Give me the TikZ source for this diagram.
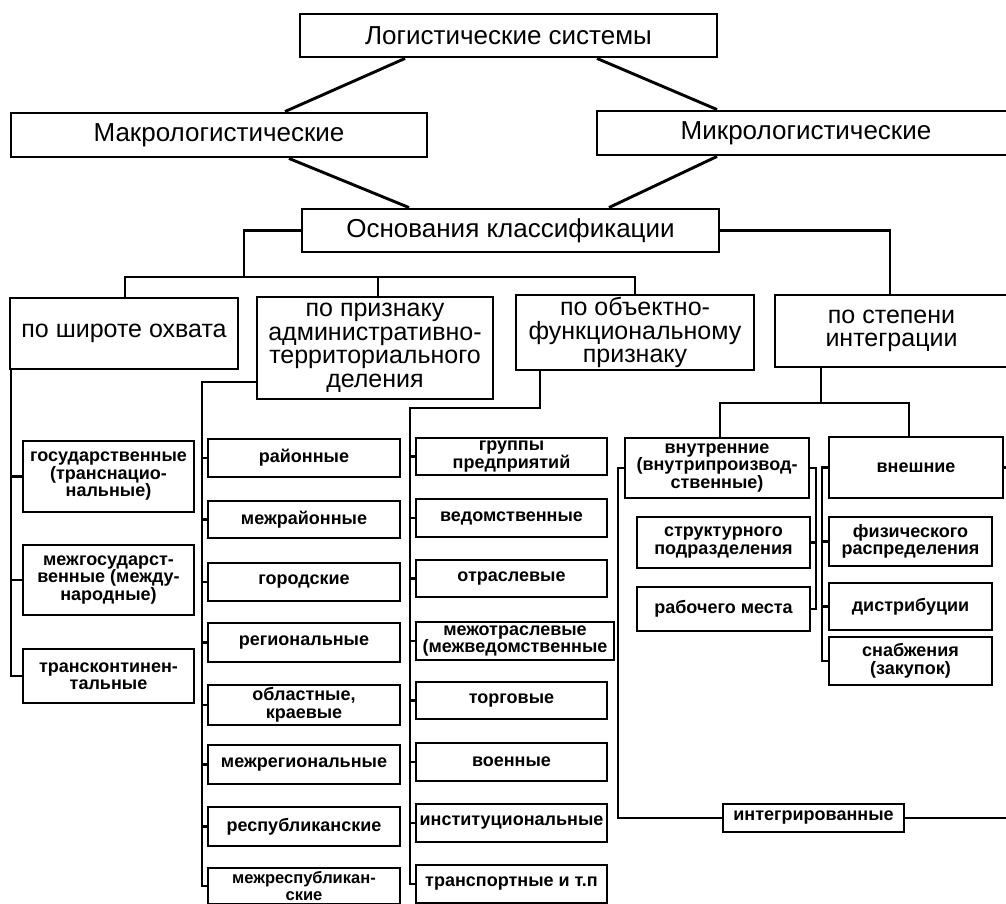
\documentclass[tikz,border=0pt]{standalone}
\usepackage{fontspec}
\setmainfont{Liberation Sans}
\begin{document}
\begin{tikzpicture}[x=1pt,y=-1pt,
  box/.style={draw, line width=2.9pt, rectangle, inner sep=0pt, align=center},
  titlebox/.style={box, font=\fontsize{26}{26}\selectfont},
  catbox/.style={box, font=\fontsize{25}{23.5}\selectfont},
  leafbox/.style={box, font=\bfseries\fontsize{18}{17.5}\selectfont},
  conn/.style={line width=2.9pt, line join=miter},
]
\useasboundingbox (0,0) rectangle (1006,904);
\fill[white] (0,0) rectangle (1006,904);
\clip (0,0) rectangle (1006,904);

% top level
\node[titlebox, minimum width=417pt, minimum height=43pt] (log) at (508.5,35.5) {Логистические системы};
\node[titlebox, minimum width=416pt, minimum height=44pt] (makro) at (219,135) {Макрологистические};
\node[titlebox, minimum width=418pt, minimum height=44pt] (mikro) at (806,133) {Микрологистические};
\node[titlebox, minimum width=417pt, minimum height=43pt] (osn) at (510.5,230.5) {Основания классификации};

% categories
\node[catbox, minimum width=228pt, minimum height=71pt] (shir) at (124,333.5) {по широте охвата};
\node[catbox, minimum width=236pt, minimum height=102pt] (adm) at (375,348) {по признаку\\административно-\\территориального\\деления};
\node[catbox, minimum width=238pt, minimum height=75pt] (obj) at (635,332.5) {по объектно-\\функциональному\\признаку};
\node[catbox, minimum width=233pt, minimum height=72pt] (step) at (891.5,331) {по степени\\интеграции};

% column 1
\node[leafbox, minimum width=171pt, minimum height=71pt] (gos) at (108.5,476.5) {государственные\\(транснацио-\\нальные)};
\node[leafbox, minimum width=171pt, minimum height=70pt] (mgos) at (108.5,580) {межгосударст-\\венные (между-\\народные)};
\node[leafbox, minimum width=171pt, minimum height=54pt] (trans) at (108.5,676) {трансконтинен-\\тальные};

% column 2
\node[leafbox, minimum width=192pt, minimum height=38pt] (ray) at (304,458) {районные};
\node[leafbox, minimum width=192pt, minimum height=37pt] (mray) at (304,519.5) {межрайонные};
\node[leafbox, minimum width=192pt, minimum height=38pt] (gor) at (304,582) {городские};
\node[leafbox, minimum width=192pt, minimum height=39pt] (reg) at (304,642.5) {региональные};
\node[leafbox, minimum width=192pt, minimum height=40pt] (obl) at (304,705) {областные,\\краевые};
\node[leafbox, minimum width=192pt, minimum height=39pt] (mreg) at (304,764.5) {межрегиональные};
\node[leafbox, minimum width=192pt, minimum height=39pt] (resp) at (304,826.5) {республиканские};
\node[leafbox, minimum width=192pt, minimum height=36pt, font=\bfseries\fontsize{16.5}{16.5}\selectfont] (mresp) at (304,886) {межреспубликан-\\ские};

% column 3
\node[leafbox, minimum width=191pt, minimum height=37pt] (grp) at (511.5,456.5) {группы\\предприятий};
\node[leafbox, minimum width=191pt, minimum height=38pt] (ved) at (511.5,518) {ведомственные};
\node[leafbox, minimum width=191pt, minimum height=37pt] (otr) at (511.5,578.5) {отраслевые};
\node[leafbox, minimum width=198pt, minimum height=38pt] (motr) at (515,641) {межотраслевые\\(межведомственные};
\node[leafbox, minimum width=191pt, minimum height=37pt] (torg) at (511.5,700.5) {торговые};
\node[leafbox, minimum width=191pt, minimum height=38pt] (voen) at (511.5,762) {военные};
\node[leafbox, minimum width=191pt, minimum height=38pt] (inst) at (511.5,823) {институциональные};
\node[leafbox, minimum width=191pt, minimum height=38pt] (transp) at (511.5,884) {транспортные и т.п};

% integration subtree
\node[leafbox, minimum width=184pt, minimum height=60pt] (vnutr) at (717,468) {внутренние\\(внутрипроизвод-\\ственные)};
\node[leafbox, minimum width=173pt, minimum height=51pt] (strukt) at (723.5,542.5) {структурного\\подразделения};
\node[leafbox, minimum width=173pt, minimum height=44pt] (rab) at (723.5,609) {рабочего места};
\node[leafbox, minimum width=174pt, minimum height=61pt] (vnesh) at (916,467.5) {внешние};
\node[leafbox, minimum width=163pt, minimum height=49pt] (fiz) at (910.5,541.5) {физического\\распределения};
\node[leafbox, minimum width=163pt, minimum height=47pt] (distr) at (910.5,606.5) {дистрибуции};
\node[leafbox, minimum width=163pt, minimum height=48pt] (snab) at (910.5,661) {снабжения\\(закупок)};
\node[leafbox, minimum width=181pt, minimum height=28pt] (integr) at (813.5,818) {интегрированные};

% top connectors
\draw[conn] (log.south -| 405,0) -- (makro.north -| 285,0);
\draw[conn] (log.south -| 597,0) -- (mikro.north -| 717,0);
\draw[conn] (makro.south -| 289,0) -- (osn.north -| 409,0);
\draw[conn] (mikro.south -| 717,0) -- (osn.north -| 609,0);

% classification bus
\coordinate (b1) at (244,277);
\coordinate (bL) at (125,277);
\coordinate (bR) at (635,277);
\draw[conn] (osn.west) -| (b1);
\draw[conn] (bL |- shir.north) -- (bL) -- (bR) -- (obj.north);
\draw[conn] (378,277) -- (adm.north -| 378,0);
\draw[conn] (osn.east) -| (step.north -| 890,0);

% column 1 connectors
\coordinate (s1) at (11,0);
\draw[conn] (shir.south -| s1) |- (trans.west);
\draw[conn] (gos.west -| s1) -- (gos.west);
\draw[conn] (mgos.west -| s1) -- (mgos.west);

% column 2 connectors
\coordinate (s2) at (202,382);
\draw[conn] (adm.west |- s2) -- (s2) |- (mresp.west);
\foreach \n in {ray,mray,gor,reg,obl,mreg,resp}
  \draw[conn] (\n.west -| s2) -- (\n.west);

% column 3 connectors
\coordinate (s3) at (410,408);
\draw[conn] (obj.south -| 540,0) |- (s3) |- (transp.west);
\foreach \n in {grp,ved,otr,motr,torg,voen,inst}
  \draw[conn] (\n.west -| s3) -- (\n.west);

% integration connectors
\draw[conn] (step.south -| 821,0) -- (821,403);
\draw[conn] (vnutr.north -| 720,0) -- (720,403) -- (909,403) -- (vnesh.north -| 909,0);
\draw[conn] (vnutr.west) -| (618,818) -- (integr.west);
\draw[conn] (vnutr.east) -| (816,609) -- (rab.east);
\draw[conn] (strukt.east -| 816,0) -- (strukt.east);
\draw[conn] (vnesh.west) -| (822,661) -- (snab.west);
\draw[conn] (fiz.west -| 822,0) -- (fiz.west);
\draw[conn] (distr.west -| 822,0) -- (distr.west);
\draw[conn] (vnesh.east) -- (1012,467.5);
\draw[conn] (integr.east) -- (1012,818);
\end{tikzpicture}
\end{document}
